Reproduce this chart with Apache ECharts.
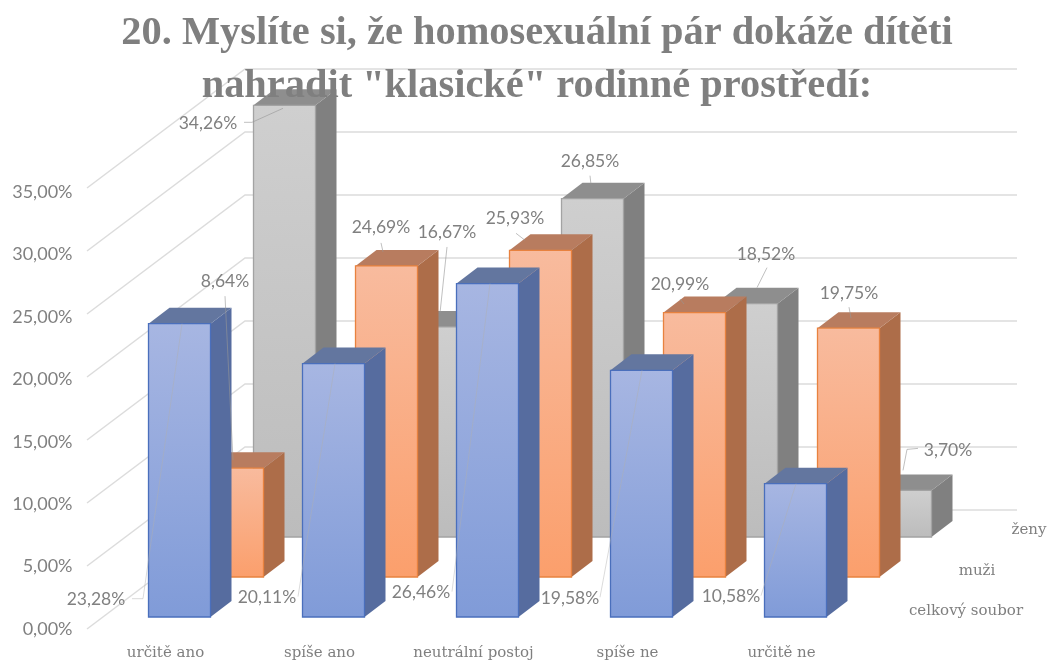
<!DOCTYPE html>
<html><head><meta charset="utf-8">
<style>html,body{margin:0;padding:0;background:#fff}#c{width:1049px;height:662px}</style>
<script src="https://cdn.jsdelivr.net/npm/echarts@6/dist/echarts.min.js"></script>
</head><body><div id="c"></div>
<script>
const titleText = '20. Myslíte si, že homosexuální pár dokáže dítěti\nnahradit "klasické" rodinné prostředí:';
const categories = ['určitě ano', 'spíše ano', 'neutrální postoj', 'spíše ne', 'určitě ne'];
const rowNames = ['ženy', 'muži', 'celkový soubor'];
const celkovySoubor = [23.28, 20.11, 26.46, 19.58, 10.58];
const muzi = [8.64, 24.69, 25.93, 20.99, 19.75];
const zeny = [34.26, 16.67, 26.85, 18.52, 3.70];
const yTicks = [0, 5, 10, 15, 20, 25, 30, 35];

const fmt = v => v.toFixed(2).replace('.', ',') + '%';
const BAR_W = 62, DX = 21, DY = 16;

// Row layout and styling (pixel offset of each depth row from the front plane)
const rows = {
  zeny: {x: 88, y: -92, front: ['#cfcfcf', '#bcbcbc'], border: '#a3a3a3', side: '#808080', top: '#8e8e8e', lead: 'rgba(150,150,150,0.6)'},
  muzi: {x: 36, y: -52, front: ['#f8bb9e', '#fb9f6c'], border: '#e8823f', side: '#ad6d49', top: '#b87c5f', lead: 'rgba(150,150,150,0.6)'},
  celk: {x: -17, y: -12, front: ['#a7b6e2', '#809bd8'], border: '#4a6fbc', side: '#566c9f', top: '#63769f', lead: 'rgba(175,175,175,0.45)'}
};
// Label centre and leader points, relative to the top centre of the bar front
const notes = {
  celk: [
    {t: [-83.5, 276], l: [[-47.5, 275], [-36.5, 275], [2.5, 0]]},
    {t: [-66.5, 234], l: [[-35.5, 233], [1.5, 0]]},
    {t: [-66.5, 309], l: [[-35.5, 308], [2.5, 0]]},
    {t: [-71.5, 228], l: [[-41.5, 227], [0.5, 0]]},
    {t: [-64.5, 113], l: [[-34.5, 112], [0.5, 0]]}
  ],
  muzi: [
    {t: [-7.5, -187], l: [[-7.5, -172], [0.5, -8]]},
    {t: [-5.5, -39], l: [[-5.5, -23], [-3.5, -14]]},
    {t: [-25.5, -32], l: [[-24.5, -17], [-15.5, -10]]},
    {t: [-14.5, -28.5], l: [[-14.5, -13.5], [-10.5, -8.5]]},
    {t: [0.5, -35], l: [[0.5, -21], [2.5, -10]]}
  ],
  zeny: [
    {t: [-76.5, 18], l: [[-40.5, 17], [-32.5, 17], [-1.5, 3]]},
    {t: [8.5, -95], l: [[8.5, -80], [1.5, -14]]},
    {t: [-2.5, -37], l: [[-2.5, -23], [-1.5, -14]]},
    {t: [19.5, -49], l: [[20.5, -36], [10.5, -16]]},
    {t: [47.5, -40], l: [[17.5, -42], [6.5, -41], [2.5, -20]]}
  ]
};
const vGrad = (c0, c1) => new echarts.graphic.LinearGradient(0, 0, 0, 1, [{offset: 0, color: c0}, {offset: 1, color: c1}]);

function barSeries(name, key, values) {
  const r = rows[key];
  return {
    name, type: 'custom', coordinateSystem: 'cartesian2d', z: 3, silent: true,
    encode: {x: 0, y: 1},
    data: values.map((v, i) => [i, v]),
    renderItem(params, api) {
      const top = api.coord([api.value(0), api.value(1)]);
      const base = api.coord([api.value(0), 0]);
      const x0 = top[0] + r.x, x1 = x0 + BAR_W, yT = top[1] + r.y, yB = base[1] + r.y;
      return {type: 'group', children: [
        {type: 'polygon', shape: {points: [[x1, yT], [x1 + DX, yT - DY], [x1 + DX, yB - DY], [x1, yB]]},
          style: {fill: r.side}},
        {type: 'polygon', shape: {points: [[x0, yT], [x0 + DX, yT - DY], [x1 + DX, yT - DY], [x1, yT]]},
          style: {fill: r.top}},
        {type: 'rect', shape: {x: x0, y: yT, width: BAR_W, height: yB - yT},
          style: {fill: vGrad(r.front[0], r.front[1]), stroke: r.border, lineWidth: 1.3}}
      ]};
    }
  };
}
function noteSeries(key, values) {
  const r = rows[key];
  return {
    type: 'custom', coordinateSystem: 'cartesian2d', z: 5, silent: true,
    encode: {x: 0, y: 1},
    data: values.map((v, i) => [i, v]),
    renderItem(params, api) {
      const top = api.coord([api.value(0), api.value(1)]);
      const ax = top[0] + r.x + BAR_W / 2, ay = top[1] + r.y;
      const n = notes[key][params.dataIndex];
      return {type: 'group', children: [
        {type: 'polyline', shape: {points: n.l.map(p => [ax + p[0], ay + p[1]])},
          style: {fill: 'none', stroke: r.lead, lineWidth: 1}},
        {type: 'text', x: ax + n.t[0], y: ay + n.t[1],
          style: {text: fmt(api.value(1)), fill: '#808080', font: '17.5px Lato', align: 'center', verticalAlign: 'middle'}}
      ]};
    }
  };
}
const chart = echarts.init(document.getElementById('c'), null, {renderer: 'canvas'});
chart.setOption({
  animation: false,
  backgroundColor: '#fff',
  title: {
    text: titleText, left: 532, top: 2, textAlign: 'center',
    textStyle: {fontFamily: 'Liberation Serif', fontWeight: 'bold', fontSize: 40.4, lineHeight: 53, color: '#7f7f7f'}
  },
  grid: [
    {left: 88.5, width: 770, top: 188, height: 441},
    {left: 88.5, width: 770, top: 192, height: 437}
  ],
  xAxis: [{
    type: 'category', data: categories,
    axisLine: {show: false}, axisTick: {show: false},
    axisLabel: {fontFamily: 'DejaVu Serif', fontSize: 15, color: '#7f7f7f', margin: 17, interval: 0}
  }, {
    type: 'category', gridIndex: 1, data: categories, show: false
  }],
  yAxis: [{
    type: 'value', min: 0, max: 35, interval: 5, show: false
  }, {
    type: 'value', gridIndex: 1, min: 0, max: 35, interval: 5,
    axisLine: {show: false}, axisTick: {show: false}, splitLine: {show: false},
    axisLabel: {formatter: fmt, fontFamily: 'Lato', fontSize: 18, color: '#808080', margin: 16}
  }],
  graphic: rowNames.map((t, i) => ({
    type: 'text', x: [1029, 977, 966][i], y: [530, 571, 611][i], z: 6,
    style: {text: t, fill: '#7f7f7f', font: '15px "DejaVu Serif"', align: 'center', verticalAlign: 'middle'}
  })),
  series: [
    {
      type: 'custom', coordinateSystem: 'cartesian2d', z: 1, silent: true,
      encode: {x: 0, y: 1},
      data: yTicks.map(v => [0, v]),
      renderItem(params, api) {
        const v = api.value(1), y = api.coord([0, v])[1], x = params.coordSys.x - 1.5;
        const style = {fill: 'none', stroke: '#dcdcdc', lineWidth: 1.5};
        if (v === 0) {
          return {type: 'group', children: [
            {type: 'polyline', shape: {points: [[x, y], [x + 61, y - 46]]}, style},
            {type: 'polyline', shape: {points: [[950, y - 119], [1017, y - 119]]}, style}
          ]};
        }
        return {type: 'polyline', shape: {points: [[x, y], [x + 158, y - 119], [1017, y - 119]]}, style};
      }
    },
    barSeries(rowNames[0], 'zeny', zeny),
    barSeries(rowNames[1], 'muzi', muzi),
    barSeries(rowNames[2], 'celk', celkovySoubor),
    noteSeries('zeny', zeny),
    noteSeries('muzi', muzi),
    noteSeries('celk', celkovySoubor)
  ]
});
</script></body></html>
